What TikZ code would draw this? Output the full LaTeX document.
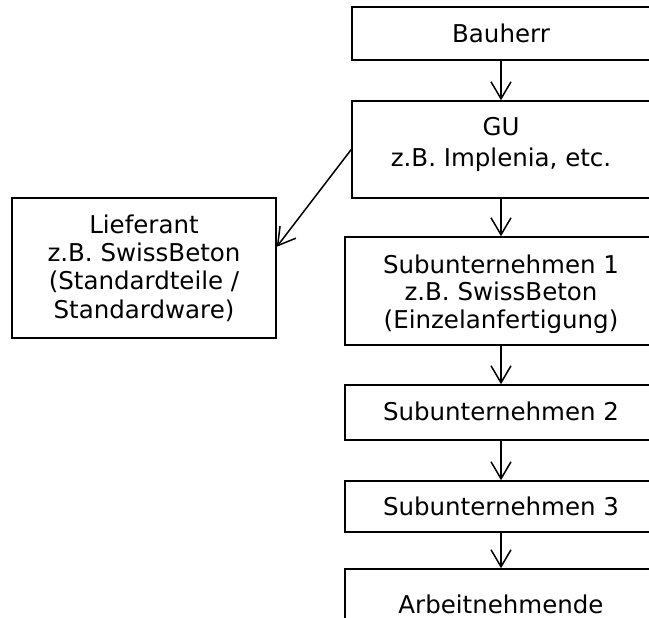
\documentclass[tikz,border=0pt]{standalone}
\usepackage{fontspec}
\setmainfont{DejaVu Sans}
\usetikzlibrary{arrows.meta,calc}
\newcommand\firstln{\rule{0pt}{20pt}}
\begin{document}
\begin{tikzpicture}[x=1pt,y=-1pt,
  box/.style={draw,line width=1.5pt,inner sep=0pt},
  txt/.style={inner sep=0pt,align=center,anchor=north,
    font=\fontsize{24.5}{27.5}\selectfont},
  conn/.style={line width=1.5pt,-{Straight Barb[length=17pt,width=20pt]}}]
\clip (0,0) rectangle (649,618);
\fill[white] (0,0) rectangle (649,618);
% boxes
\node[box,minimum width=298pt,minimum height=53pt] (bau) at (501,33.5) {};
\node[box,minimum width=298pt,minimum height=97pt] (gu) at (501,149.5) {};
\node[box,minimum width=312pt,minimum height=108pt] (sub1) at (501,291) {};
\node[box,minimum width=312pt,minimum height=55pt] (sub2) at (501,412.5) {};
\node[box,minimum width=312pt,minimum height=51pt] (sub3) at (501,506.5) {};
\node[box,minimum width=312pt,minimum height=70pt] (arb) at (501,604) {};
\node[box,minimum width=264pt,minimum height=140pt] (lief) at (144,268) {};
% texts (first baseline 20pt below anchor)
\node[txt] (bauT) at (501,22) {\firstln Bauherr};
\node[txt] (guT) at (501,115) {\firstln GU\\[3.5pt]z.B. Implenia, etc.};
\node[txt] (sub1T) at (501,253) {\firstln Subunternehmen 1\\z.B. SwissBeton\\(Einzelanfertigung)};
\node[txt] (sub2T) at (501,400) {\firstln Subunternehmen 2};
\node[txt] (sub3T) at (501,495) {\firstln Subunternehmen 3};
\node[txt] (arbT) at (501,593) {\firstln Arbeitnehmende};
\node[txt] (liefT) at (144,213) {\firstln Lieferant\\[0.8pt]z.B. SwissBeton\\[0.8pt](Standardteile /\\[0.8pt]Standardware)};
% connectors
\coordinate (liefin) at ($(lief.north east)!0.35!(lief.south east)$);
\draw[conn] (bau) -- (gu);
\draw[conn] (gu) -- (sub1);
\draw[conn] (sub1) -- (sub2);
\draw[conn] (sub2) -- (sub3);
\draw[conn] (sub3) -- (arb);
\draw[conn] (gu.west) -- (liefin);
\end{tikzpicture}
\end{document}
